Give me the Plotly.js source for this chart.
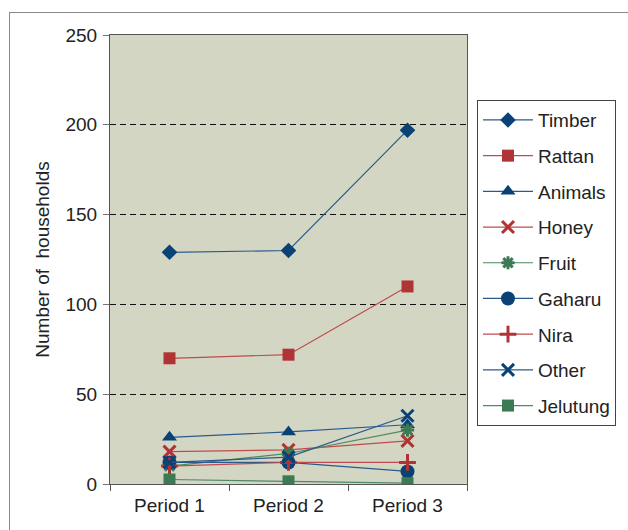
<!DOCTYPE html>
<html>
<head>
<meta charset="utf-8">
<script src="https://cdn.plot.ly/plotly-3.0.1.min.js"></script>
<style>
html,body{margin:0;padding:0;background:#fff;}
#frame{position:absolute;left:9px;top:12px;width:640px;height:540px;border-left:1px solid #888;border-top:1px solid #888;}
#chart{position:absolute;left:0;top:0;width:628px;height:530px;}
</style>
</head>
<body>
<div id="frame"></div>
<div id="chart"></div>
<script>
const periods = ["Period 1", "Period 2", "Period 3"];
const timber = [129, 130, 197];
const rattan = [70, 72, 110];
const animals = [26, 29, 33];
const honey = [18, 19, 24];
const fruit = [10, 17, 30];
const gaharu = [12, 12, 7];
const nira = [10, 12, 12];
const other = [12, 15, 38];
const jelutung = [2.5, 1.5, 0.5];

const BLUE = "#0b4276", RED = "#b03436", GREEN = "#3b7a52";
const BLUE_L = "#2a5a8c", RED_L = "#c04a4c", GREEN_L = "#4f8a62";

function tr(name, y, color, lcolor, symbol, size, extra) {
  const m = {symbol: symbol, size: size, color: color, line: {color: color, width: 0}};
  if (extra) Object.assign(m, extra);
  return {x: periods, y: y, name: name, type: "scatter", mode: "lines+markers",
    line: {color: lcolor, width: 1.2}, marker: m, legendgroup: name};
}

const data = [
  tr("Timber", timber, BLUE, BLUE_L, "diamond", 12),
  tr("Rattan", rattan, RED, RED_L, "square", 12),
  tr("Animals", animals, BLUE, BLUE_L, "triangle-up", 13),
  tr("Honey", honey, RED, RED_L, "x-thin-open", 12, {line: {color: RED, width: 3}}),
  tr("Fruit", fruit, GREEN, GREEN_L, "asterisk-open", 11, {line: {color: GREEN, width: 3}}),
  tr("Gaharu", gaharu, BLUE, BLUE_L, "circle", 14),
  tr("Nira", nira, RED, RED_L, "cross-thin-open", 12, {line: {color: RED, width: 3}}),
  tr("Other", other, BLUE, BLUE_L, "x-thin-open", 12, {line: {color: BLUE, width: 3}}),
  tr("Jelutung", jelutung, GREEN, GREEN_L, "square", 12)
];

const FONT = '"Liberation Sans", Arial, sans-serif';

const layout = {
  width: 628, height: 530,
  margin: {l: 110, r: 161, t: 35, b: 46},
  paper_bgcolor: "rgba(0,0,0,0)",
  plot_bgcolor: "#d4d6c4",
  font: {family: FONT, size: 19, color: "#222"},
  showlegend: true,
  legend: {
    x: 1.028, y: 0.855, xanchor: "left", yanchor: "top",
    bgcolor: "#ffffff", bordercolor: "#444", borderwidth: 1,
    font: {family: FONT, size: 19, color: "#222"},
    traceorder: "grouped", tracegroupgap: 8, itemwidth: 50
  },
  xaxis: {
    type: "category", range: [-0.5, 2.5],
    showline: true, linecolor: "#555", linewidth: 1, mirror: true,
    ticks: "outside", ticklen: 6, tickcolor: "#555", tickson: "boundaries",
    showgrid: false, tickfont: {family: FONT, size: 19}, ticklabelstandoff: 4,
    fixedrange: true
  },
  yaxis: {
    range: [0, 250], dtick: 50,
    showline: true, linecolor: "#555", linewidth: 1, mirror: true,
    ticks: "outside", ticklen: 6, tickcolor: "#777",
    showgrid: true, gridcolor: "#111", gridwidth: 1, griddash: "6px,4px",
    zeroline: false, tickfont: {family: FONT, size: 19}, ticklabelstandoff: 2,
    title: {text: "Number of  households", font: {family: FONT, size: 19}, standoff: 10}
  }
};

Plotly.newPlot("chart", data, layout, {displayModeBar: false, staticPlot: true});
</script>
</body>
</html>
